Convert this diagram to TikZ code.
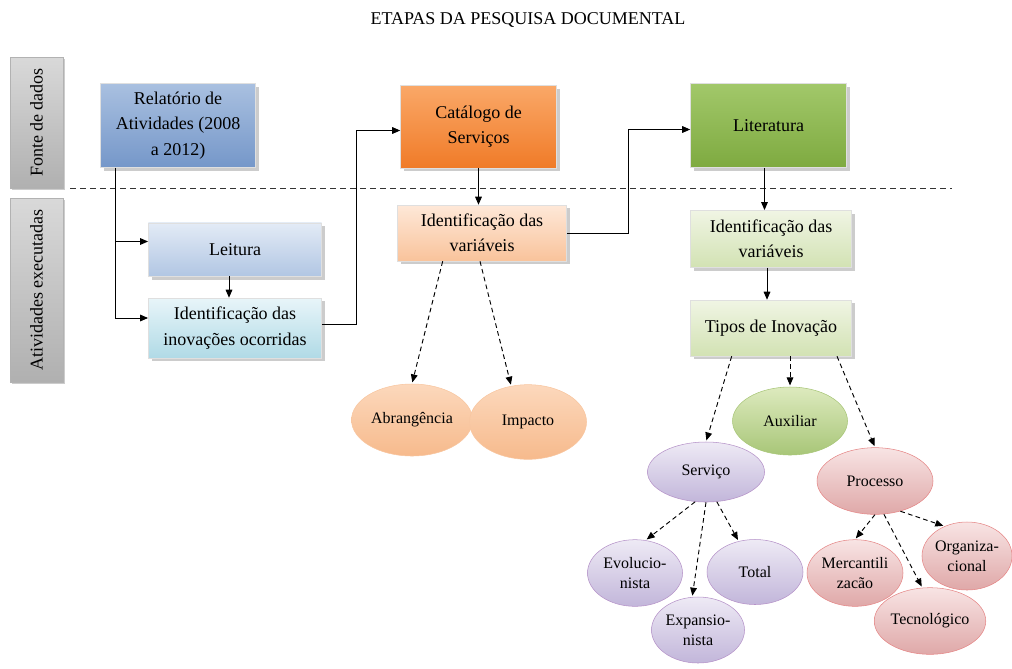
\documentclass[tikz,border=0pt]{standalone}
\usepackage{fontspec}
\setmainfont{Liberation Serif}
\usetikzlibrary{shadows,shapes.geometric,arrows.meta}

\definecolor{azulA}{HTML}{A9C0E0}
\definecolor{azulB}{HTML}{7597C9}
\definecolor{azulC}{HTML}{E3EBF6}
\definecolor{azulD}{HTML}{B1C6E3}
\definecolor{cianoA}{HTML}{E8F5F9}
\definecolor{cianoB}{HTML}{B0DAE6}
\definecolor{laranjaA}{HTML}{FAA868}
\definecolor{laranjaB}{HTML}{F07B28}
\definecolor{laranjaC}{HTML}{FEE8D8}
\definecolor{laranjaD}{HTML}{F9C39B}
\definecolor{laranjaE}{HTML}{FCD8BC}
\definecolor{laranjaF}{HTML}{F5AE78}
\definecolor{verdeA}{HTML}{A2C86A}
\definecolor{verdeB}{HTML}{7EAA40}
\definecolor{verdeC}{HTML}{F0F5E4}
\definecolor{verdeD}{HTML}{D2E2B3}
\definecolor{verdeE}{HTML}{DDEABE}
\definecolor{verdeF}{HTML}{A8C678}
\definecolor{lilasA}{HTML}{EEEAF5}
\definecolor{lilasB}{HTML}{C2B6DA}
\definecolor{rosaA}{HTML}{F8E4E4}
\definecolor{rosaB}{HTML}{DFA8A8}

\tikzset{
  etapa/.style={draw=white!75!gray, thin, align=center, inner sep=2pt,
    font=\fontsize{13.5}{19}\selectfont,
    drop shadow={shadow xshift=2.5pt, shadow yshift=-2.5pt, fill=black!40}},
  variavel/.style={ellipse, thin, align=center, inner sep=0pt,
    font=\fontsize{12}{15}\selectfont},
  faixa/.style={rotate=90, draw=gray!60, thin, top color=gray!30, bottom color=gray!62,
    font=\fontsize{13.5}{16}\selectfont, minimum height=39.75pt,
    drop shadow={shadow xshift=1.5pt, shadow yshift=-1.5pt, fill=black!40}},
  divisa/.style={dash pattern=on 4.5pt off 3pt, line width=0.7pt, black!80},
  liga/.style={-{Triangle[length=6pt,width=5pt]}, line width=0.7pt},
  ramo/.style={-{Triangle[length=6pt,width=5pt]}, line width=0.7pt,
    dash pattern=on 3.5pt off 2.5pt, shorten >=1pt}
}

\begin{document}
\begin{tikzpicture}[x=0.75pt, y=-0.75pt]
  \useasboundingbox (0,0) rectangle (1012,668);

  %% title
  \node[font=\fontsize{13.5}{15}\selectfont] (titulo) at (528,20)
    {ETAPAS DA PESQUISA DOCUMENTAL};

  %% side bars
  \node[faixa, minimum width=98.25pt] (fonte) at (36.5,122.5) {Fonte de dados};
  \node[faixa, minimum width=138pt] (ativ) at (36.5,290) {Atividades executadas};

  \draw[divisa] (70,188) -- (952,188);

  %% first column
  \node[etapa, top color=azulA, bottom color=azulB,
    minimum width=116pt, minimum height=63pt] (rel) at (178,125.5)
    {Relatório de\\Atividades (2008\\a 2012)};
  \node[etapa, top color=azulC, bottom color=azulD,
    minimum width=130pt, minimum height=40pt] (leitura) at (235,249.5) {Leitura};
  \node[etapa, top color=cianoA, bottom color=cianoB,
    minimum width=130pt, minimum height=45pt] (idinov) at (235,328)
    {Identificação das\\inovações ocorridas};

  \draw[liga] ([xshift=11.25pt]rel.south west) |- ([yshift=6pt]leitura.west);
  \draw[liga] ([xshift=11.25pt]rel.south west) |- ([yshift=7.5pt]idinov.west);
  \draw[liga] (leitura.south -| 229,0) -- (idinov.north -| 229,0);

  %% second column
  \node[etapa, top color=laranjaA, bottom color=laranjaB,
    minimum width=117pt, minimum height=62pt] (catalogo) at (478.5,126.5)
    {Catálogo de\\Serviços};
  \node[etapa, top color=laranjaC, bottom color=laranjaD,
    minimum width=127pt, minimum height=42pt] (idvarA) at (482,233)
    {Identificação das\\variáveis};

  \draw[liga] ([yshift=3pt]idinov.east) -- ++(35,0) |- ([yshift=-3pt]catalogo.west);
  \draw[liga] (catalogo.south) -- (catalogo.south |- idvarA.north);

  \node[variavel, draw=laranjaF!70, top color=laranjaE, bottom color=laranjaF!85,
    minimum width=90.75pt, minimum height=54pt] (abr) at (412,420) {Abrangência};
  \node[variavel, draw=laranjaF!70, top color=laranjaE, bottom color=laranjaF!85,
    minimum width=87.75pt, minimum height=56pt] (imp) at (528,422) {Impacto};

  \draw[ramo] ([xshift=-29.5pt]idvarA.south) -- (abr.north);
  \draw[ramo] ([xshift=-1.5pt]idvarA.south) -- (imp.115);

  %% third column
  \node[etapa, top color=verdeA, bottom color=verdeB,
    minimum width=117pt, minimum height=63pt] (literatura) at (768.5,125.5)
    {Literatura};
  \node[etapa, top color=verdeC, bottom color=verdeD,
    minimum width=121pt, minimum height=43pt] (idvarB) at (771,239)
    {Identificação das\\variáveis};
  \node[etapa, top color=verdeC, bottom color=verdeD,
    minimum width=121pt, minimum height=42pt] (tipos) at (771,328)
    {Tipos de Inovação};

  \draw[liga] (idvarA.east) -- ++(62,0) |- ([yshift=-3pt]literatura.west);
  \draw[liga] ([xshift=-3pt]literatura.south) -- ([xshift=-3pt]literatura.south |- idvarB.north);
  \draw[liga] ([xshift=-3pt]idvarB.south) -- ([xshift=-3pt]idvarB.south |- tipos.north);

  %% innovation types
  \node[variavel, draw=verdeF, top color=verdeE, bottom color=verdeF,
    minimum width=86.25pt, minimum height=51pt] (aux) at (790,421) {Auxiliar};
  \node[variavel, draw=lilasB!80!violet, top color=lilasA, bottom color=lilasB,
    minimum width=87.75pt, minimum height=45pt] (serv) at (706,472) {Serviço};
  \node[variavel, draw=rosaB!80!red, top color=rosaA, bottom color=rosaB,
    minimum width=87pt, minimum height=50pt] (proc) at (875,481) {Processo};

  \draw[ramo] ([xshift=-29.5pt]tipos.south) -- (serv.north);
  \draw[ramo] (tipos.south -| aux.north) -- (aux.north);
  \draw[ramo] ([xshift=49.5pt]tipos.south) -- (proc.north);

  %% service leaves
  \node[variavel, draw=lilasB!80!violet, top color=lilasA, bottom color=lilasB,
    minimum width=71.25pt, minimum height=50pt] (evol) at (635,573) {Evolucio-\\nista};
  \node[variavel, draw=lilasB!80!violet, top color=lilasA, bottom color=lilasB,
    minimum width=72pt, minimum height=48.75pt] (total) at (755,572) {Total};
  \node[variavel, draw=lilasB!80!violet, top color=lilasA, bottom color=lilasB,
    minimum width=69.75pt, minimum height=49.5pt] (expa) at (698,630) {Expansio-\\nista};

  \draw[ramo] (serv.250) -- (evol.72);
  \draw[ramo] (serv.south) -- (expa.100);
  \draw[ramo] (serv.290) -- (total.118);

  %% process leaves
  \node[variavel, draw=rosaB!80!red, top color=rosaA, bottom color=rosaB,
    minimum width=72pt, minimum height=50pt] (merc) at (855,573) {Mercantili\\zacão};
  \node[variavel, draw=rosaB!80!red, top color=rosaA, bottom color=rosaB,
    minimum width=78pt, minimum height=50pt] (tecn) at (930,621) {Tecnológico};
  \node[variavel, draw=rosaB!80!red, top color=rosaA, bottom color=rosaB,
    minimum width=66.5pt, minimum height=51pt] (orga) at (967,556) {Organiza-\\cional};

  \draw[ramo] (proc.south) -- (merc.north);
  \draw[ramo] (proc.285) -- (tecn.103);
  \draw[ramo] (proc.310) -- (orga.127);

\end{tikzpicture}
\end{document}
